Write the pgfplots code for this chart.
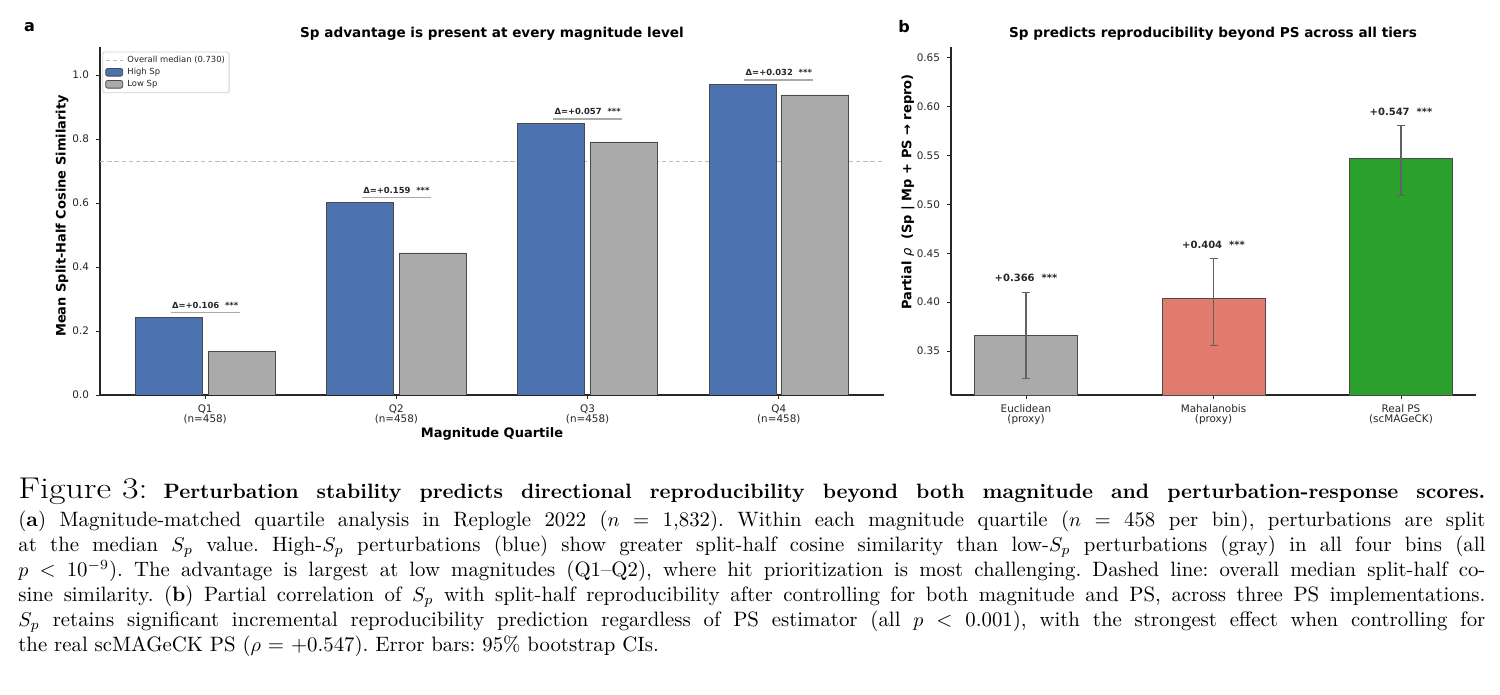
\documentclass[border=0pt]{standalone}
\usepackage{fontspec}
\newfontfamily\dejavu{DejaVu Sans}
\usepackage{graphicx}
\usepackage{pgfplots}
\pgfplotsset{compat=1.18}
\definecolor{hiblue}{HTML}{4C72B0}
\definecolor{logray}{HTML}{AAAAAA}
\definecolor{salmon}{HTML}{E07B6E}
\definecolor{pgreen}{HTML}{2CA02C}
\definecolor{edge}{HTML}{4A4A4A}
\definecolor{medline}{HTML}{BBBBBB}
\definecolor{txt}{HTML}{262626}
\pgfplotsset{
  chartstyle/.style={
    scale only axis,
    axis lines=left,
    axis line style={-, color=black!85, line width=0.55pt},
    tick align=outside,
    major tick length=2pt,
    tick style={color=black!85, line width=0.45pt},
    tick label style={font=\fontsize{5.2}{5}\selectfont, color=txt},
    /pgf/number format/assume math mode=true,
  },
  lineleg/.style={legend image code/.code={\draw[##1] (0pt,0pt) -- (8.5pt,0pt);}},
  boxleg/.style={legend image code/.code={\draw[##1] (0pt,-1.9pt) rectangle (8.5pt,1.9pt);}},
}
\begin{document}
\dejavu
\begin{tikzpicture}
\useasboundingbox (0,0) rectangle (750pt,-347.5pt);

% ---------------- panel a ----------------
\begin{axis}[chartstyle,
  at={(50pt,-197.5pt)}, anchor=south west,
  width=392pt, height=174pt,
  xmin=-0.55, xmax=3.55, ymin=0, ymax=1.088,
  xtick={0,1,2,3},
  xticklabels={{Q1\\(n=458)},{Q2\\(n=458)},{Q3\\(n=458)},{Q4\\(n=458)}},
  xticklabel style={align=center, yshift=0.6pt},
  ytick={0,0.2,0.4,0.6,0.8,1.0},
  yticklabel style={/pgf/number format/.cd, fixed, fixed zerofill, precision=1},
  legend cell align=left,
  legend style={at={(0.003,0.987)}, anchor=north west,
    font=\fontsize{4.2}{4.4}\selectfont, draw=black!18, fill=white,
    rounded corners=1pt, inner sep=1.2pt,
    /tikz/every odd column/.append style={column sep=1.2pt},
    nodes={inner sep=0.9pt, text height=3.2pt, text depth=1pt, text=txt}},
]
\addlegendimage{lineleg, color=medline, line width=0.55pt, dash pattern=on 2.2pt off 1.4pt}
\addlegendentry{Overall median (0.730)}
\addlegendimage{boxleg, fill=hiblue, draw=edge, line width=0.4pt}
\addlegendentry{High Sp}
\addlegendimage{boxleg, fill=logray, draw=edge, line width=0.4pt}
\addlegendentry{Low Sp}

% overall median
\addplot[forget plot, color=medline, line width=0.55pt, dash pattern=on 2.2pt off 1.4pt]
  coordinates {(-0.55,0.730) (3.55,0.730)};
% High Sp
\addplot[forget plot, ybar, bar width=0.35, bar shift=-0.19, fill=hiblue, draw=edge, line width=0.4pt]
  coordinates {(0,0.243) (1,0.603) (2,0.848) (3,0.970)};
% Low Sp
\addplot[forget plot, ybar, bar width=0.35, bar shift=0.19, fill=logray, draw=edge, line width=0.4pt]
  coordinates {(0,0.137) (1,0.444) (2,0.791) (3,0.938)};
% delta brackets
\addplot[forget plot, color=logray, line width=0.6pt, unbounded coords=jump]
  coordinates {(-0.18,0.258) (0.18,0.258) (0.5,nan)
               (0.82,0.618) (1.18,0.618) (1.5,nan)
               (1.82,0.863) (2.18,0.863) (2.5,nan)
               (2.82,0.985) (3.18,0.985)};
\begin{scope}[every node/.style={font=\bfseries\fontsize{4.2}{5}\selectfont, text=txt}]
\node at (axis cs:0,0.281) {Δ=+0.106\ \ ***};
\node at (axis cs:1,0.641) {Δ=+0.159\ \ ***};
\node at (axis cs:2,0.886) {Δ=+0.057\ \ ***};
\node at (axis cs:3,1.008) {Δ=+0.032\ \ ***};
\end{scope}
\end{axis}

% ---------------- panel b ----------------
\begin{axis}[chartstyle,
  at={(475.5pt,-197.5pt)}, anchor=south west,
  width=262.5pt, height=174pt,
  xmin=-0.4, xmax=2.4, ymin=0.305, ymax=0.661,
  xtick={0,1,2},
  xticklabels={{Euclidean\\(proxy)},{Mahalanobis\\(proxy)},{Real PS\\(scMAGeCK)}},
  xticklabel style={align=center, yshift=0.6pt},
  ytick={0.35,0.40,0.45,0.50,0.55,0.60,0.65},
  yticklabel style={/pgf/number format/.cd, fixed, fixed zerofill, precision=2},
]
\addplot[ybar, bar width=0.55, bar shift=0, fill=logray, draw=edge, line width=0.4pt,
  error bars/.cd, y dir=both, y explicit,
  error bar style={color=black!62, line width=0.6pt},
  error mark options={rotate=90, mark size=2pt, color=black!62, line width=0.6pt}]
  coordinates {(0,0.366) += (0,0.044) -= (0,0.044)};
\addplot[ybar, bar width=0.55, bar shift=0, fill=salmon, draw=edge, line width=0.4pt,
  error bars/.cd, y dir=both, y explicit,
  error bar style={color=black!62, line width=0.6pt},
  error mark options={rotate=90, mark size=2pt, color=black!62, line width=0.6pt}]
  coordinates {(1,0.404) += (0,0.041) -= (0,0.048)};
\addplot[ybar, bar width=0.55, bar shift=0, fill=pgreen, draw=edge, line width=0.4pt,
  error bars/.cd, y dir=both, y explicit,
  error bar style={color=black!62, line width=0.6pt},
  error mark options={rotate=90, mark size=2pt, color=black!62, line width=0.6pt}]
  coordinates {(2,0.547) += (0,0.034) -= (0,0.038)};
\begin{scope}[every node/.style={font=\bfseries\fontsize{5}{6}\selectfont, text=txt}]
\node at (axis cs:0,0.4245) {+0.366\ \ ***};
\node at (axis cs:1,0.459) {+0.404\ \ ***};
\node at (axis cs:2,0.595) {+0.547\ \ ***};
\end{scope}
\end{axis}

% ---------------- titles and labels ----------------
\node[font=\bfseries\fontsize{8}{9}\selectfont] at (14.8pt,-13.5pt) {a};
\node[font=\bfseries\fontsize{8}{9}\selectfont] at (452pt,-13.5pt) {b};
\node[font=\bfseries\fontsize{6.8}{8}\selectfont] at (246pt,-17pt) {Sp advantage is present at every magnitude level};
\node[font=\bfseries\fontsize{6.8}{8}\selectfont] at (606.5pt,-17pt) {Sp predicts reproducibility beyond PS across all tiers};
\node[font=\bfseries\fontsize{6.5}{8}\selectfont] at (246pt,-217pt) {Magnitude Quartile};
\node[font=\bfseries\fontsize{6.5}{8}\selectfont, rotate=90] at (31pt,-108pt) {Mean Split-Half Cosine Similarity};
\node[font=\bfseries\fontsize{6.5}{8}\selectfont, rotate=90] at (454pt,-96pt) {Partial {\mdseries\itshape ρ}\ \ (Sp | Mp + PS → repro)};

% ---------------- caption ----------------
\begin{scope}[every node/.style={anchor=base west, inner sep=0pt, font=\rmfamily\fontsize{10.4}{12.5}\selectfont\frenchspacing}]
\node at (9pt,-249pt) {\makebox[733.5pt][s]{\hbox{\scalebox{1.2}[1]{\fontsize{15}{15}\selectfont Figure\kern4.5pt3:}}\hspace{8pt}\textbf{Perturbation stability predicts directional reproducibility beyond both magnitude and perturbation-response scores.}}};
\node at (9pt,-263.25pt) {\makebox[733.5pt][s]{(\textbf{a}) Magnitude-matched quartile analysis in Replogle 2022 ($n$ = 1,832). Within each magnitude quartile ($n$ = 458 per bin), perturbations are split}};
\node at (9pt,-275.75pt) {\makebox[733.5pt][s]{at the median $S_p$ value. High-$S_p$ perturbations (blue) show greater split-half cosine similarity than low-$S_p$ perturbations (gray) in all four bins (all}};
\node at (9pt,-288.25pt) {\makebox[733.5pt][s]{$p$ < 10$^{-9}$). The advantage is largest at low magnitudes (Q1–Q2), where hit prioritization is most challenging. Dashed line: overall median split-half co-}};
\node at (9pt,-300.75pt) {\makebox[733.5pt][s]{sine similarity. (\textbf{b}) Partial correlation of $S_p$ with split-half reproducibility after controlling for both magnitude and PS, across three PS implementations.}};
\node at (9pt,-313.25pt) {\makebox[733.5pt][s]{$S_p$ retains significant incremental reproducibility prediction regardless of PS estimator (all $p$ < 0.001), with the strongest effect when controlling for}};
\node at (9pt,-325.75pt) {the real scMAGeCK PS ($\rho$ = +0.547). Error bars: 95\% bootstrap CIs.};
\end{scope}
\end{tikzpicture}
\end{document}
